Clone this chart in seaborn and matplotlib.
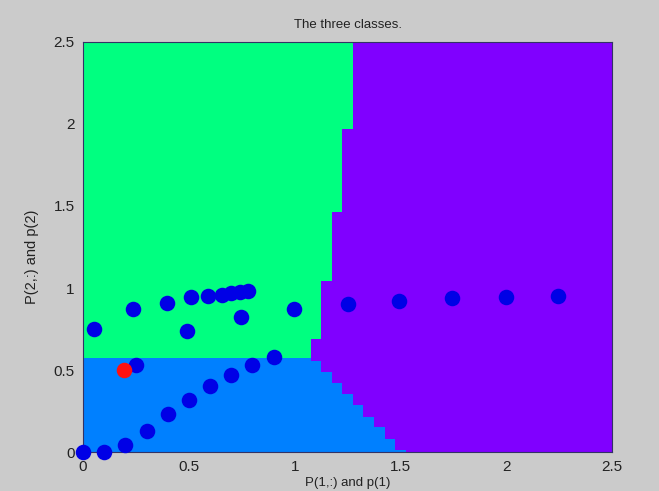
import numpy as np
import pandas as pd
import matplotlib
matplotlib.use("Agg")
import matplotlib.pyplot as plt
from matplotlib.colors import ListedColormap
import seaborn as sns

# ---- data ----
train_x = [0.0, 0.1, 0.2, 0.3, 0.4, 0.5, 0.6, 0.7, 0.8, 0.9, 0.25,
           0.05, 0.235, 0.395, 0.49, 0.51, 0.59, 0.655, 0.70, 0.74, 0.78, 0.745, 0.995,
           1.25, 1.495, 1.745, 2.0, 2.245]
train_y = [0.0, 0.0, 0.04, 0.13, 0.23, 0.32, 0.40, 0.47, 0.53, 0.58, 0.53,
           0.75, 0.87, 0.91, 0.735, 0.943, 0.95, 0.96, 0.97, 0.975, 0.98, 0.825, 0.87,
           0.905, 0.92, 0.937, 0.947, 0.953]
test_x = [0.195]
test_y = [0.5]

# class boundaries (decision regions)
split_y = 0.577                       # green / blue boundary
gp_y = [0.577, 0.695, 1.05, 1.475, 1.98, 2.5]   # green / purple boundary
gp_x = [1.085, 1.101, 1.151, 1.201, 1.251, 1.29]
bp_y = [0.0, 0.577]                   # blue / purple boundary
bp_x = [1.51, 1.085]
region_colors = ["#00FF80", "#0080FF", "#8000FF"]   # green, blue, purple

tick_vals = [0, 0.5, 1, 1.5, 2, 2.5]
tick_labels = ["0", "0.5", "1", "1.5", "2", "2.5"]

# ---- figure ----
sns.set_style("white")
plt.rcParams["font.family"] = ["Liberation Sans", "DejaVu Sans"]

fig = plt.figure(figsize=(6.59, 4.91), dpi=100, facecolor="#CBCBCB")
ax = fig.add_axes([0.126, 0.0794, 0.803, 0.8351])

# decision region grid
step = 0.05
xc = np.arange(0, 2.5 + 1e-9, step)
xe = np.concatenate([[0], (xc[:-1] + xc[1:]) / 2, [2.5]])
ye = np.arange(0, 2.5 + 1e-9, 0.005)
yc = (ye[:-1] + ye[1:]) / 2
XX, YY = np.meshgrid(xc, yc)
gp_line = np.interp(YY, gp_y, gp_x)
bp_line = np.interp(YY, bp_y, bp_x)
cls = np.where(YY >= split_y,
               np.where(XX < gp_line, 0, 2),
               np.where(XX < bp_line, 1, 2))
ax.pcolormesh(xe, ye, cls, cmap=ListedColormap(region_colors), vmin=-0.5, vmax=2.5,
              shading="flat", zorder=0)

train_df = pd.DataFrame({"x": train_x, "y": train_y})
test_df = pd.DataFrame({"x": test_x, "y": test_y})
sns.scatterplot(data=train_df, x="x", y="y", ax=ax, color="#0000E6", s=125,
                linewidth=0, clip_on=False, zorder=3)
sns.scatterplot(data=test_df, x="x", y="y", ax=ax, color="#FF1010", s=125,
                linewidth=0, clip_on=False, zorder=4)

ax.set_xlim(0, 2.5)
ax.set_ylim(0, 2.5)
ax.set_xticks(tick_vals)
ax.set_xticklabels(tick_labels)
ax.set_yticks(tick_vals)
ax.set_yticklabels(tick_labels)
ax.tick_params(axis="both", length=0, labelsize=11, labelcolor="#222222", pad=6)
for sp in ax.spines.values():
    sp.set_color("#333366")
    sp.set_linewidth(0.8)
ax.set_facecolor("#CBCBCB")

ax.set_title("The three classes.", fontsize=9.5, color="#222222", pad=10)
ax.set_xlabel("P(1,:) and p(1)", fontsize=9.5, color="#222222", labelpad=2)
ax.set_ylabel("P(2,:) and p(2)", fontsize=10.5, color="#222222")
ax.yaxis.set_label_coords(-0.083, 0.476)

fig.savefig("out.png", dpi=100, facecolor=fig.get_facecolor())
